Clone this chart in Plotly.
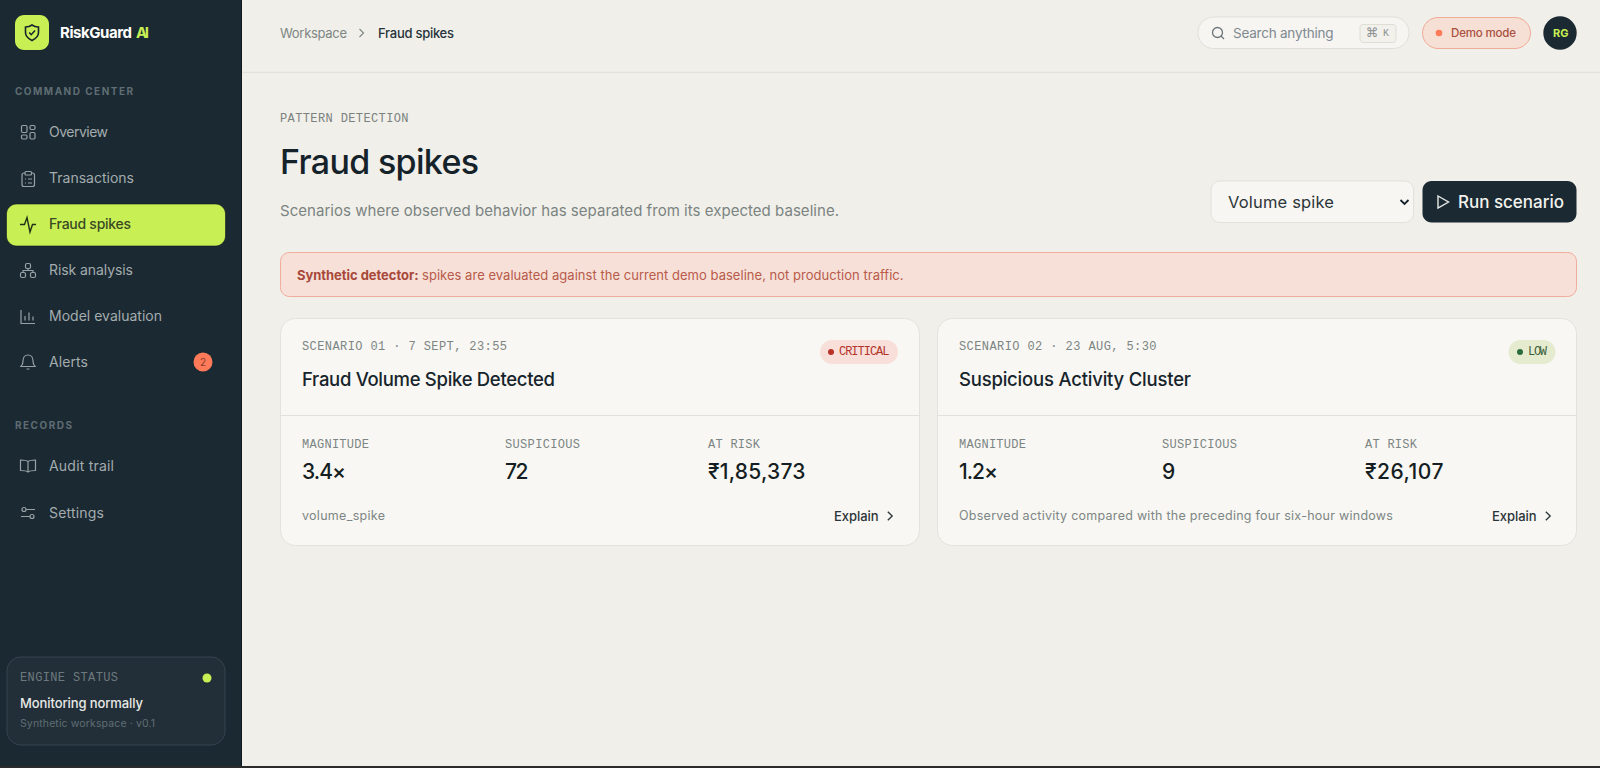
import json
import plotly.graph_objects as go

# page text and values
nav_labels = ["Overview", "Transactions", "Fraud spikes", "Risk analysis", "Model evaluation", "Alerts"]
nav_y = [131.3, 177.3, 223.8, 269.3, 315.6, 361.7]
nav_widths = [59, 85, 82, 84, 113, 39]
record_labels = ["Audit trail", "Settings"]
record_y = [465.7, 512.4]
record_widths = [65, 55]
alert_count = "2"

scenario_heads = ["SCENARIO 01 · 7 SEPT, 23:55", "SCENARIO 02 · 23 AUG, 5:30"]
scenario_titles = ["Fraud Volume Spike Detected", "Suspicious Activity Cluster"]
scenario_levels = ["CRITICAL", "LOW"]
magnitudes = ["3.4×", "1.2×"]
suspicious = ["72", "9"]
at_risk = ["₹1,85,373", "₹26,107"]
footers = ["volume_spike", "Observed activity compared with the preceding four six-hour windows"]

# colours
BG = "#F0EFE9"
SIDE = "#1B2932"
LIME = "#C8F055"
INK = "#17242B"
CARD = "#F8F7F3"
LINE = "#DFDED7"
MUTED = "#7D8684"
SIDE_TXT = "#A3ACAE"
SANS = "Inter"
MONO = "Liberation Mono"

shapes = []
annotations = []
fit_widths = []  # wanted width per annotation, used by the script at the end


def rrect(x0, y0, x1, y1, r):
    k = r * 0.45
    return (f"M{x0+r},{y0} L{x1-r},{y0} C{x1-k},{y0} {x1},{y0+k} {x1},{y0+r} "
            f"L{x1},{y1-r} C{x1},{y1-k} {x1-k},{y1} {x1-r},{y1} "
            f"L{x0+r},{y1} C{x0+k},{y1} {x0},{y1-k} {x0},{y1-r} "
            f"L{x0},{y0+r} C{x0},{y0+k} {x0+k},{y0} {x0+r},{y0} Z")


def box(x0, y0, x1, y1, r, fill, border=None, bw=1):
    shapes.append(dict(type="path", path=rrect(x0, y0, x1, y1, r), fillcolor=fill,
                       line=dict(color=border or fill, width=bw if border else 0)))


def dot(cx, cy, r, fill, border=None, bw=1):
    shapes.append(dict(type="circle", x0=cx - r, x1=cx + r, y0=cy - r, y1=cy + r, fillcolor=fill,
                       line=dict(color=border or fill, width=bw if border else 0)))


def hline(x0, x1, y, color):
    shapes.append(dict(type="line", x0=x0, x1=x1, y0=y, y1=y, line=dict(color=color, width=1)))


def stroke(d, color, width=1.3, fill="rgba(0,0,0,0)"):
    shapes.append(dict(type="path", path=d, fillcolor=fill, line=dict(color=color, width=width)))


def shift(d, cx, cy):
    # moves a path written around 0,0 to cx,cy
    out = []
    for tok in d.split():
        if "," in tok:
            letter = tok[0] if tok[0].isalpha() else ""
            a, b = tok.lstrip("MLCQ").split(",")
            out.append(f"{letter}{float(a)+cx},{float(b)+cy}")
        else:
            out.append(tok)
    return " ".join(out)


def text(x, y, s, size, color, family=SANS, weight=400, width=None):
    annotations.append(dict(x=x - 1.2, y=y, text=s, xref="x", yref="y", showarrow=False, xanchor="left",
                            yanchor="middle", align="left", borderpad=0,
                            font=dict(size=size, color=color, family=family, weight=weight)))
    fit_widths.append(width)


# backgrounds
shapes.append(dict(type="rect", x0=242, x1=1600, y0=0, y1=768, fillcolor=BG, line=dict(width=0)))
shapes.append(dict(type="rect", x0=0, x1=242, y0=0, y1=768, fillcolor=SIDE, line=dict(width=0)))
shapes.append(dict(type="rect", x0=241, x1=242, y0=0, y1=768, fillcolor="#0F1A20", line=dict(width=0)))
shapes.append(dict(type="rect", x0=0, x1=1600, y0=766, y1=768, fillcolor="#2B2B2B", line=dict(width=0)))

# logo
box(15, 15, 49, 50, 9, LIME)
stroke(shift("M0,-7.5 C2,-6 4.5,-5.5 6.5,-5.5 L6.5,0 C6.5,4 3,6.5 0,8 C-3,6.5 -6.5,4 -6.5,0 L-6.5,-5.5 C-4.5,-5.5 -2,-6 0,-7.5 Z", 32, 32.5), INK, 1.6)
stroke(shift("M-2.8,0 L-0.8,2.2 L3,-2", 32, 32.5), INK, 1.5)
text(60, 32, "RiskGuard", 15, "#FFFFFF", weight=700, width=72)
text(136, 32, "AI", 15, LIME, weight=700, width=13)

# sidebar
text(15, 90.5, "COMMAND CENTER", 10, "#5F6D73", weight=700, width=118)
box(6.5, 204, 225.5, 246, 10, LIME, "#12181C", 0.6)
for label, y, w in zip(nav_labels, nav_y, nav_widths):
    active = label == "Fraud spikes"
    text(49, y, label, 14, "#3A4A24" if active else SIDE_TXT, weight=500 if active else 400, width=w)
text(15, 425, "RECORDS", 10, "#5F6D73", weight=700, width=57)
for label, y, w in zip(record_labels, record_y, record_widths):
    text(49, y, label, 14, SIDE_TXT, width=w)

# sidebar icons
ic = "#98A2A6"
for x0, y0, x1, y1 in [(21.5, 125.5, 27, 132.5), (30, 125.5, 35, 129.5), (21.5, 135, 27, 139), (30, 132.5, 35, 139)]:
    shapes.append(dict(type="path", path=rrect(x0, y0, x1, y1, 1.2), fillcolor="rgba(0,0,0,0)", line=dict(color=ic, width=1.2)))
shapes.append(dict(type="path", path=rrect(22, 173, 34.5, 186.5, 2), fillcolor="rgba(0,0,0,0)", line=dict(color=ic, width=1.2)))
shapes.append(dict(type="path", path=rrect(25, 171.5, 31.5, 175, 1), fillcolor=SIDE, line=dict(color=ic, width=1.2)))
for ly in [179, 183]:
    stroke(f"M25,{ly} L26,{ly} M28,{ly} L32,{ly}", ic, 1.1)
stroke(shift("M-8,0 L-3.5,0 L-1,-7 L2,7.5 L4.5,0 L8,0", 28, 224.5), "#22301A", 1.4)
for x0, y0, x1, y1 in [(25.5, 263.5, 30.5, 268.5), (20.5, 272.5, 25.5, 277.5), (30.5, 272.5, 35.5, 277.5)]:
    shapes.append(dict(type="path", path=rrect(x0, y0, x1, y1, 1.5), fillcolor="rgba(0,0,0,0)", line=dict(color=ic, width=1.2)))
stroke("M28,268.5 L28,270.5 M23,272.5 L23,270.5 L33,270.5 L33,272.5", ic, 1.2)
stroke("M21,310 L21,323.5 L35,323.5 M25,320.5 L25,316 M29,320.5 L29,312.5 M33,320.5 L33,316.5", ic, 1.2)
stroke(shift("M-7,4.5 L7,4.5 C5.5,3 5,1.5 5,-1 C5,-4.5 3,-7 0,-7 C-3,-7 -5,-4.5 -5,-1 C-5,1.5 -5.5,3 -7,4.5 Z M-1.5,7 L1.5,7", 28, 362), ic, 1.2)
stroke(shift("M0,-4.5 C-2,-6 -5,-6 -7.5,-6 L-7.5,4.5 C-5,4.5 -2,4.5 0,6 C2,4.5 5,4.5 7.5,4.5 L7.5,-6 C5,-6 2,-6 0,-4.5 Z M0,-4.5 L0,6", 28, 466), ic, 1.2)
stroke("M26,509.5 L35,509.5 M21,516.5 L30,516.5", ic, 1.2)
dot(24, 509.5, 2, SIDE, ic, 1.2)
dot(32, 516.5, 2, SIDE, ic, 1.2)

dot(203, 362, 9.5, "#FF7A59")
annotations.append(dict(x=203, y=362, text=alert_count, xref="x", yref="y", showarrow=False,
                        font=dict(size=10, color="#8A3B2A", family=SANS)))
fit_widths.append(None)

# engine card
box(7, 657, 225, 745, 14, "#232F38", "#354550")
dot(207, 678, 4.5, LIME)
text(20, 678.2, "ENGINE STATUS", 12, "#6C7A7E", family=MONO, width=98)
text(20, 703, "Monitoring normally", 13, "#E8EAE6", weight=500, width=123)
text(20, 723, "Synthetic workspace · v0.1", 10.5, "#5F6E74", width=135)

# top bar
hline(242, 1600, 72.3, LINE)
text(280, 33, "Workspace", 13, MUTED, width=67)
stroke(shift("M-2,-4 L2,0 L-2,4", 361.5, 33), MUTED, 1.1)
text(378, 33, "Fraud spikes", 13, "#26333A", weight=500, width=76)

box(1198, 17, 1409, 48.5, 15.5, "#F6F5F1", "#E0DFD8")
dot(1217.5, 32.5, 5, "rgba(0,0,0,0)", "#6D767A", 1.3)
stroke("M1221,36 L1224,39", "#6D767A", 1.3)
text(1233.5, 33, "Search anything", 13.5, "#7F8A90", width=100.5)
box(1360, 24.5, 1396, 42.5, 3, "#F2F1EC", "#DEDDD6")
annotations.append(dict(x=1372.5, y=32, text="⌘", xref="x", yref="y", showarrow=False,
                        font=dict(size=12.5, color="#8B9092", family="DejaVu Sans")))
fit_widths.append(None)
annotations.append(dict(x=1386, y=33, text="K", xref="x", yref="y", showarrow=False,
                        font=dict(size=10, color="#8B9092", family=MONO)))
fit_widths.append(None)

box(1422.5, 17.5, 1530.5, 48.5, 15.5, "#F6DFD5", "#F1AB99")
dot(1439, 33, 3.3, "#FF7A59")
text(1451.5, 32.7, "Demo mode", 11.5, "#A9503F", weight=500, width=65)
dot(1560, 33, 16.7, SIDE)
annotations.append(dict(x=1560, y=33, text="RG", xref="x", yref="y", showarrow=False,
                        font=dict(size=11, color=LIME, family=SANS, weight=700)))
fit_widths.append(None)

# page heading
text(280, 118.7, "PATTERN DETECTION", 12, "#7B817F", family=MONO, width=128.5)
text(280, 161.5, "Fraud spikes", 34, "#15222A", weight=500, width=199)
text(280, 210, "Scenarios where observed behavior has separated from its expected baseline.", 15, "#7B8482", width=559)

# select and button
box(1211, 181, 1413.5, 222.5, 9, "#F7F6F2", "#E2E1DA")
text(1228, 202, "Volume spike", 16.5, "#2C3539", width=106)
stroke(shift("M-4,-2 L0,2 L4,-2", 1404.5, 202), INK, 1.8)
box(1422.5, 181, 1576.5, 222.5, 9, SIDE)
stroke(shift("M-4.5,-6 L6,0 L-4.5,6 Z", 1442.5, 202), "#E8EAE6", 1.4)
text(1458.5, 202, "Run scenario", 17, "#F2F3EE", weight=500, width=106)

# banner
box(280.5, 252.5, 1576.5, 296.5, 9, "#F6E0D8", "#F0AC9C")
text(297.5, 274.5, "Synthetic detector:", 13, "#A8483A", weight=700, width=121.5)
text(422, 274.5, "spikes are evaluated against the current demo baseline, not production traffic.", 13, "#B85B4A", width=481.5)

# scenario cards, positions read per card
card_x = [(280.5, 919.5), (937.5, 1576.5)]
text_x = [302, 959]
col2_x = [505, 1162.3]
col3_x = [707.7, 1365]
head_w = [205, 197.5]
title_w = [253, 232]
mag_w = [44, 39]
sus_w = [23.5, 12.5]
risk_w = [97.5, 78.5]
foot_w = [83, 434]
pill_x = [(820, 898), (1508.5, 1555.5)]
pill_fill = ["#F8DFDA", "#E5EBCF"]
pill_dot = [("#B83227", 831), ("#2D6B3E", 1520)]
pill_text = [("#B3352A", 839, 50.5), ("#3B5E3A", 1528, 19)]
explain_x = [834.5, 1492]
chev_x = [890, 1548]

for i in range(2):
    x0, x1 = card_x[i]
    box(x0, 318.5, x1, 545.5, 15, CARD, "#E3E2DC")
    hline(x0, x1, 415.5, "#E2E1DB")
    tx = text_x[i]
    text(tx, 347.2, scenario_heads[i], 12, "#7C8583", family=MONO, width=head_w[i])
    box(pill_x[i][0], 340, pill_x[i][1], 364, 12, pill_fill[i])
    dot(pill_dot[i][1], 352, 3, pill_dot[i][0])
    text(pill_text[i][1], 351.5, scenario_levels[i], 12, pill_text[i][0], family=MONO, width=pill_text[i][2])
    text(tx, 378.7, scenario_titles[i], 18.5, INK, weight=500, width=title_w[i])
    text(tx, 444.7, "MAGNITUDE", 12, "#7C8583", family=MONO, width=67)
    text(col2_x[i], 444.7, "SUSPICIOUS", 12, "#7C8583", family=MONO, width=75)
    text(col3_x[i], 444.7, "AT RISK", 12, "#7C8583", family=MONO, width=52)
    text(tx, 471.5, magnitudes[i], 21, "#151E22", weight=500, width=mag_w[i])
    text(col2_x[i], 471.5, suspicious[i], 21, "#151E22", weight=500, width=sus_w[i])
    text(col3_x[i], 471.5, at_risk[i], 21, "#151E22", weight=500, width=risk_w[i])
    text(tx, 515.5, footers[i], 12.5, MUTED, width=foot_w[i])
    text(explain_x[i], 515.5, "Explain", 13, "#2B3438", weight=500, width=44.5)
    stroke(shift("M-2.2,-4.2 L2.2,0 L-2.2,4.2", chev_x[i], 516), "#2B3438", 1.3)

fig = go.Figure()
fig.update_layout(
    width=1600, height=768, margin=dict(l=0, r=0, t=0, b=0),
    paper_bgcolor=BG, plot_bgcolor=BG, showlegend=False,
    xaxis=dict(range=[0, 1600], visible=False, fixedrange=True),
    yaxis=dict(range=[768, 0], visible=False, fixedrange=True),
    shapes=shapes, annotations=annotations,
)

# plotly has no letter spacing, so each text is spaced out to its measured width here
fit_js = """
document.body.style.margin = '0';
document.body.style.overflow = 'hidden';
var widths = %s;
document.querySelectorAll('.annotation-text').forEach(function (el, i) {
    var w = widths[i];
    if (!w) return;
    var n = el.textContent.length;
    var gap = (w - el.getComputedTextLength()) / Math.max(n - 1, 1);
    el.style.letterSpacing = gap.toFixed(3) + 'px';
});
""" % json.dumps(fit_widths)

fig.write_html("out.html", post_script=fit_js, config=dict(displayModeBar=False))
